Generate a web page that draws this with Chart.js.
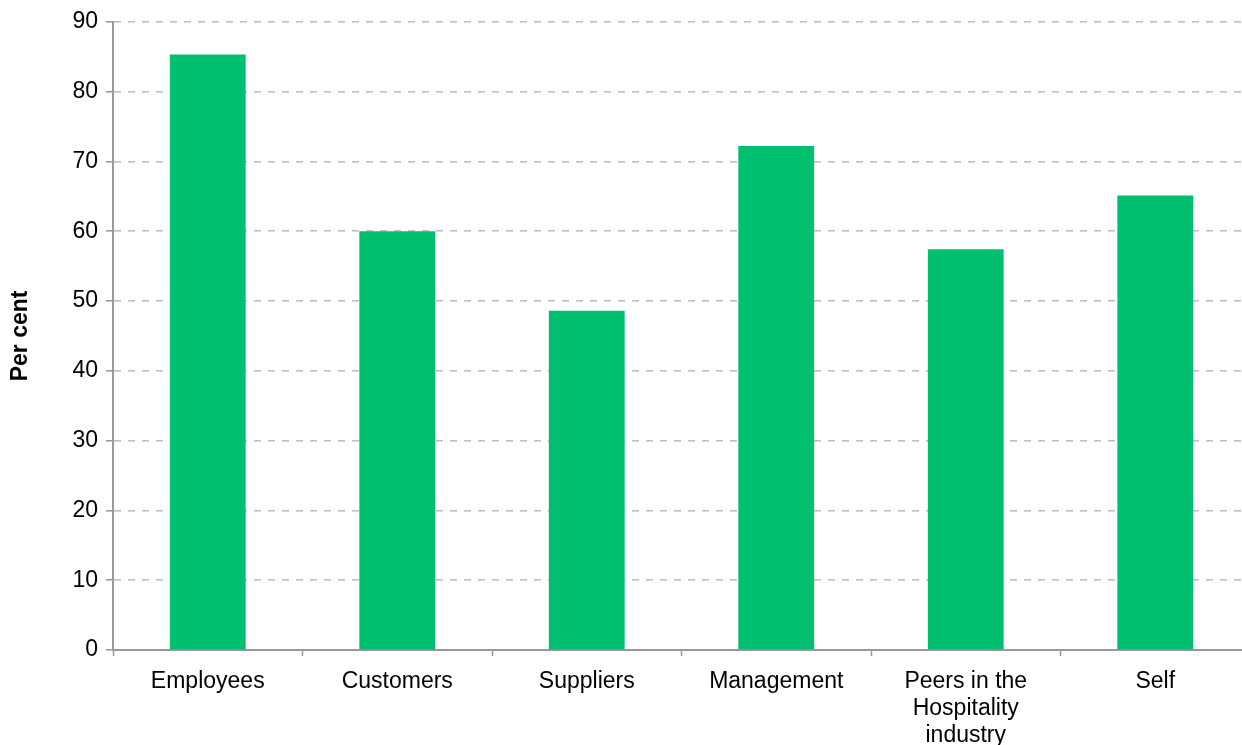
<!DOCTYPE html>
<html lang="en">
<head>
    <meta charset="UTF-8">
    <title>Per cent by group</title>
    <script src="https://cdn.jsdelivr.net/npm/chart.js"></script>
    <style>
        body { margin: 0; background: #fff; overflow: hidden; }
    </style>
</head>
<body>
    <canvas id="groupChart" width="1250" height="745"></canvas>

    <script>
        // Categories and values
        const groups = ['Employees', 'Customers', 'Suppliers', 'Management', ['Peers in the', 'Hospitality', 'industry'], 'Self'];
        const perCent = [85.3, 60.0, 48.6, 72.2, 57.4, 65.1];
        const yTicks = [0, 10, 20, 30, 40, 50, 60, 70, 80, 90];

        const font = { family: 'Liberation Sans, Arial, sans-serif', size: 23 };
        const axisGrey = '#999999';

        const ctx = document.getElementById('groupChart').getContext('2d');
        const groupChart = new Chart(ctx, {
            type: 'bar',
            data: {
                labels: groups,
                datasets: [{
                    label: 'Per cent',
                    data: perCent,
                    backgroundColor: '#00bf6f',
                    barPercentage: 0.4,
                    categoryPercentage: 1.0
                }]
            },
            options: {
                responsive: false,
                animation: false,
                layout: { padding: { top: 21, right: 0, left: 0, bottom: 0 } },
                plugins: {
                    legend: { display: false },
                    tooltip: { enabled: false }
                },
                scales: {
                    x: {
                        grid: {
                            drawOnChartArea: false,
                            drawTicks: true,
                            tickLength: 6,
                            tickWidth: 1.5,
                            color: axisGrey,
                            offset: true
                        },
                        border: { color: axisGrey, width: 2 },
                        ticks: {
                            color: '#000',
                            font: { ...font, lineHeight: 1.17 },
                            padding: 12,
                            maxRotation: 0,
                            autoSkip: false
                        },
                        afterFit: (scale) => { scale.height = 95; }
                    },
                    y: {
                        min: 0,
                        max: 90,
                        afterBuildTicks: (scale) => { scale.ticks = yTicks.map(v => ({ value: v })); },
                        grid: {
                            color: '#c0c0c0',
                            lineWidth: 1.6,
                            tickColor: axisGrey,
                            tickLength: 7,
                            tickBorderDash: []
                        },
                        border: { color: axisGrey, width: 2, dash: [7, 7] },
                        ticks: {
                            color: '#000',
                            font: font,
                            padding: 8
                        },
                        title: {
                            display: true,
                            text: 'Per cent',
                            color: '#000',
                            font: { ...font, weight: 'bold' },
                            padding: { top: 7, bottom: 0 }
                        },
                        afterFit: (scale) => { scale.width = 113; }
                    }
                }
            }
        });
    </script>
</body>
</html>
